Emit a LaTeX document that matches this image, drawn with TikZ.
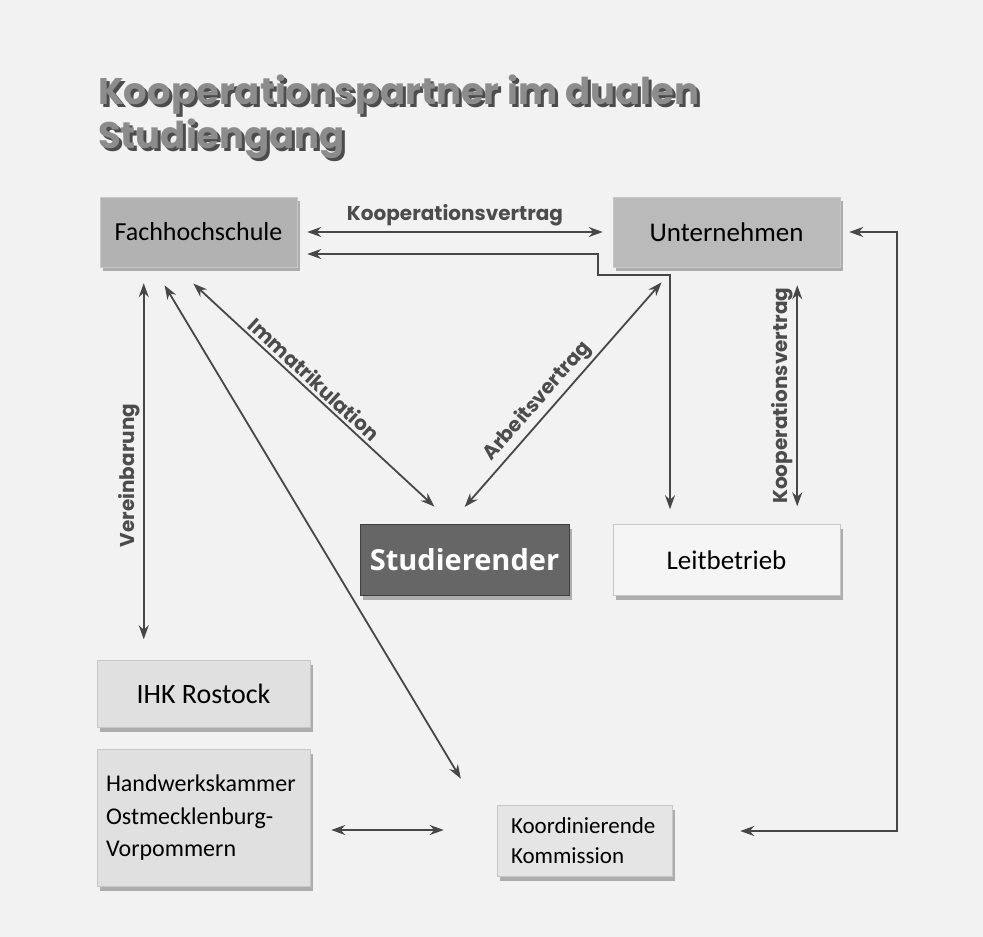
\documentclass[tikz,border=0pt]{standalone}
\usepackage{fontspec}
\setmainfont{Carlito}
\newfontfamily\headfont{Poppins}
\newfontfamily\studfont{Open Sans}
\usetikzlibrary{positioning,arrows.meta,shadows}
\newcommand{\shtxt}[2][3pt]{\rlap{\kern#1\raisebox{-#1}{\textcolor{black!70}{#2}}}#2}
\tikzset{box/.style={draw=black!22, line width=0.5pt, fill=black!12, inner sep=0pt,
    drop shadow={shadow xshift=3pt, shadow yshift=-4pt, opacity=0.6},
    font=\fontsize{26}{30}\selectfont},
  darkbox/.style={box, fill=black!30},
  title/.style={font=\headfont\bfseries\fontsize{37}{44}\selectfont, text=black!45, inner sep=0pt},
  conn/.style={draw=black!72, line width=1.8pt, <->},
  lbl/.style={font=\headfont\bfseries\fontsize{20}{24}\selectfont, text=black!70, inner sep=3pt},
  gap/.style={shorten <=#1, shorten >=#1}
}

\begin{document}
\begin{tikzpicture}[x=1pt, y=-1pt, on grid, >={Stealth[length=14pt,width=10pt]}]
      \fill[black!5] (0,0) rectangle (983,937);
      \useasboundingbox (0,0) rectangle (983,937);

      % title
      \node[title, anchor=base west] (head1) at (98,104) {\shtxt{Kooperationspartner im dualen}};
      \node[title, anchor=base west] (head2) at (98,148) {\shtxt{Studiengang}};

      % partners
      \node[darkbox, minimum width=197pt, minimum height=70pt] (fh) at (198.5,232) {Fachhochschule};
      \node[darkbox, fill=black!27, minimum width=227pt, minimum height=70pt, font=\fontsize{27}{30}\selectfont] (un) [right=528pt of fh] {Unternehmen};
      \node[box, fill=black!4, minimum width=227pt, minimum height=71pt, font=\fontsize{27}{30}\selectfont] (lb) [below=328pt of un] {Leitbetrieb};
      \node[box, fill=black!60, draw=black!75, text=white, minimum width=209pt, minimum height=71pt,
            font=\studfont\bfseries\fontsize{29}{34}\selectfont] (st) [left=262pt of lb] {Studierender};
      \node[box, minimum width=213pt, minimum height=67pt, font=\fontsize{28}{30}\selectfont] (ihk) [below=462pt of fh, xshift=5pt] {IHK Rostock};
      \node[box, minimum width=213pt, minimum height=137pt, inner xsep=9pt, text width=195pt, align=left,
            font=\fontsize{24}{32.5}\selectfont] (hwk) [below=124pt of ihk] {Handwerkskammer\\Ostmecklenburg-\\Vorpommern};
      \node[box, fill=black!10, minimum width=175pt, minimum height=71pt, inner xsep=14pt, text width=147pt, align=left,
            font=\fontsize{23}{30}\selectfont] (kk) [right=381pt of hwk, yshift=-23pt] {Koordinierende\\Kommission};

      \coordinate (k1) at (598,254);
      \coordinate (k2) at (670,275);
      \coordinate (rc) at (897,500);
      \coordinate (hk) at ([yshift=-12pt]hwk.east);

      % connections
      \path[conn, gap=10pt] (fh.east) -- node[lbl, above=2pt] {Kooperationsvertrag} (un.west);
      \path[conn, shorten <=10pt, shorten >=15pt] ([yshift=-22pt]fh.east) -- (k1) |- (k2) -- (k2 |- lb.north);
      \path[conn, shorten <=24pt, shorten >=26pt] ([xshift=76pt]fh.south west)
            -- node[lbl, sloped, above, pos=0.47] {Immatrikulation} ([xshift=-11pt]st.north);
      \path[conn, shorten <=23pt, shorten >=20pt] ([xshift=-15pt]st.north)
            -- node[lbl, sloped, above, pos=0.44] {Arbeitsvertrag} ([xshift=62pt]un.south west);
      \path[conn, shorten <=21pt, shorten >=31pt] ([xshift=54pt]fh.south west) -- ([xshift=-20pt]kk.north west);
      \path[conn, shorten <=21pt, shorten >=16pt] ([xshift=47pt]ihk.north west)
            -- node[lbl, sloped, above, pos=0.47] {Vereinbarung} ([xshift=44pt]fh.south west);
      \path[conn, gap=18pt] ([xshift=-43pt]lb.north east)
            -- node[lbl, sloped, above] {Kooperationsvertrag} ([xshift=-43pt]un.south east);
      \path[conn, shorten <=68pt, shorten >=9pt] ([yshift=10pt]kk.east) -| (rc) |- (un.east);
      \path[conn, shorten <=21pt, shorten >=53pt] (hk) -- (hk -| kk.west);
\end{tikzpicture}
\end{document}
